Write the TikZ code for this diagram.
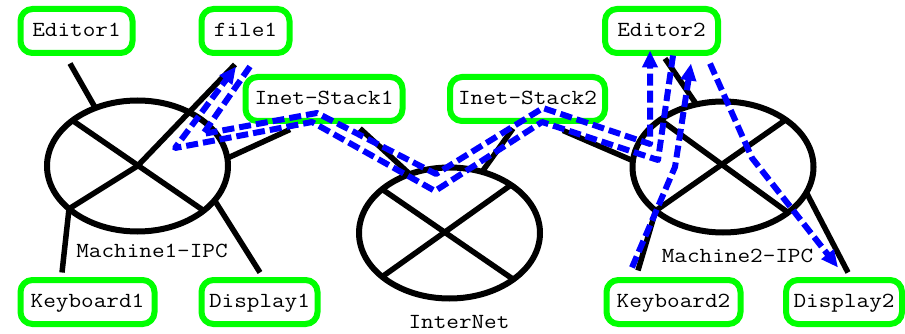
\documentclass[tikz,border=0pt]{standalone}
\usepackage{fontspec}
\setmonofont{Latin Modern Mono}[FakeStretch=1.14]
\usetikzlibrary{arrows.meta,shapes.geometric,calc}
\definecolor{boxgreen}{RGB}{0,255,0}
\definecolor{pathblue}{RGB}{0,0,255}
\begin{document}
\begin{tikzpicture}[x=1pt,y=-1pt,
  prog/.style={draw=boxgreen, fill=white, line width=6pt, rounded corners=12pt,
    minimum height=44pt, inner sep=0pt, font=\ttfamily\fontsize{21.5pt}{24pt}\selectfont,
    text height=11pt, text depth=0pt},
  net/.style={draw, ellipse, line width=6pt, minimum width=181pt, minimum height=131pt,
    inner sep=0pt, outer sep=0pt},
  wire/.style={line width=5.5pt},
  flow/.style={draw=pathblue, line width=6pt, dash pattern=on 12pt off 5pt,
    line join=round, -{Triangle[length=17pt,width=15pt]}},
  lbl/.style={font=\ttfamily\fontsize{21.5pt}{24pt}\selectfont, anchor=base, inner sep=0pt}]
\useasboundingbox (0,0) rectangle (905,334);

% networks (ellipses)
\node[net] (m1) at (137.5,166) {};
\node[net] (inet) at (449.5,233) {};
\node[net] (m2) at (723,167) {};

% programs
\node[prog, minimum width=112pt] (editor1) at (76.5,31) {Editor1};
\node[prog, minimum width=88pt] (file1) at (245.5,31) {file1};
\node[prog, minimum width=157pt] (inetstack1) at (324,99) {Inet-Stack1};
\node[prog, minimum width=155pt] (inetstack2) at (527.5,99) {Inet-Stack2};
\node[prog, minimum width=113pt] (editor2) at (661.5,31) {Editor2};
\node[prog, minimum width=134pt] (keyboard1) at (87.5,302) {Keyboard1};
\node[prog, minimum width=116pt] (display1) at (259.5,302) {Display1};
\node[prog, minimum width=134pt] (keyboard2) at (673.5,302) {Keyboard2};
\node[prog, minimum width=116pt] (display2) at (844,302) {Display2};

% labels
\node[lbl] (m1lbl) at (152,257) {Machine1-IPC};
\node[lbl] (m2lbl) at (737.5,262) {Machine2-IPC};
\node[lbl] (inetlbl) at (459,328) {InterNet};

% Machine1 wiring
\draw[wire] (m1.145) -- (m1.326);
\draw[wire] (m1.212) -- (m1.center);
\draw[wire] (m1.center) -- ($(file1.south)+(-10.5,8.5)$);
\draw[wire] ($(editor1.south)+(-6.5,7.5)$) -- (m1.126);
\draw[wire] (m1.212) -- ($(keyboard1.north)+(-25.5,-4.5)$);
\draw[wire] (m1.336) -- ($(display1.north)+(0.5,-4.5)$);
\draw[wire] (m1.5) -- ($(inetstack1.south)+(-34,5.5)$);

% InterNet wiring
\draw[wire] (inet.147) -- (inet.324);
\draw[wire] (inet.213) -- (inet.38);
\draw[wire] ($(inetstack1.south)+(36,4.5)$) -- (inet.124);
\draw[wire] ($(inetstack2.south)+(-14.5,4.5)$) -- (inet.62);

% Machine2 wiring
\draw[wire] (m2.143) -- (m2.325);
\draw[wire] (m2.213) -- (m2.37);
\draw[wire] ($(editor2.south)+(3.5,2.5)$) -- (m2.113);
\draw[wire] ($(inetstack2.south)+(35.5,6.5)$) -- (m2.176);
\draw[wire] (m2.213) -- ($(keyboard2.north)+(-35.5,-6.5)$);
\draw[wire] (m2.343) -- ($(display2.north)+(4,-4.5)$);

% data flows
\draw[flow] ($(file1.south)+(4.5,10.5)$) -- (203,134) -- (317,113) -- (436,174)
  -- (543,108) -- (650,144) -- ($(editor2.south)+(-11.5,-5.5)$);
\draw[flow] ($(editor2.south)+(11.5,-0.5)$) -- (658,160) -- (542,122) -- (435,191)
  -- (312,122) -- (175,148) -- ($(file1.south)+(-9.5,10.5)$);
\draw[flow] ($(keyboard2.north)+(-41.5,-9.5)$) -- (675,167) -- ($(editor2.south)+(29.5,7.5)$);
\draw[flow] ($(editor2.south)+(48.5,7.5)$) -- (752,158) -- ($(display2.north)+(-6,-9.5)$);
\end{tikzpicture}
\end{document}
